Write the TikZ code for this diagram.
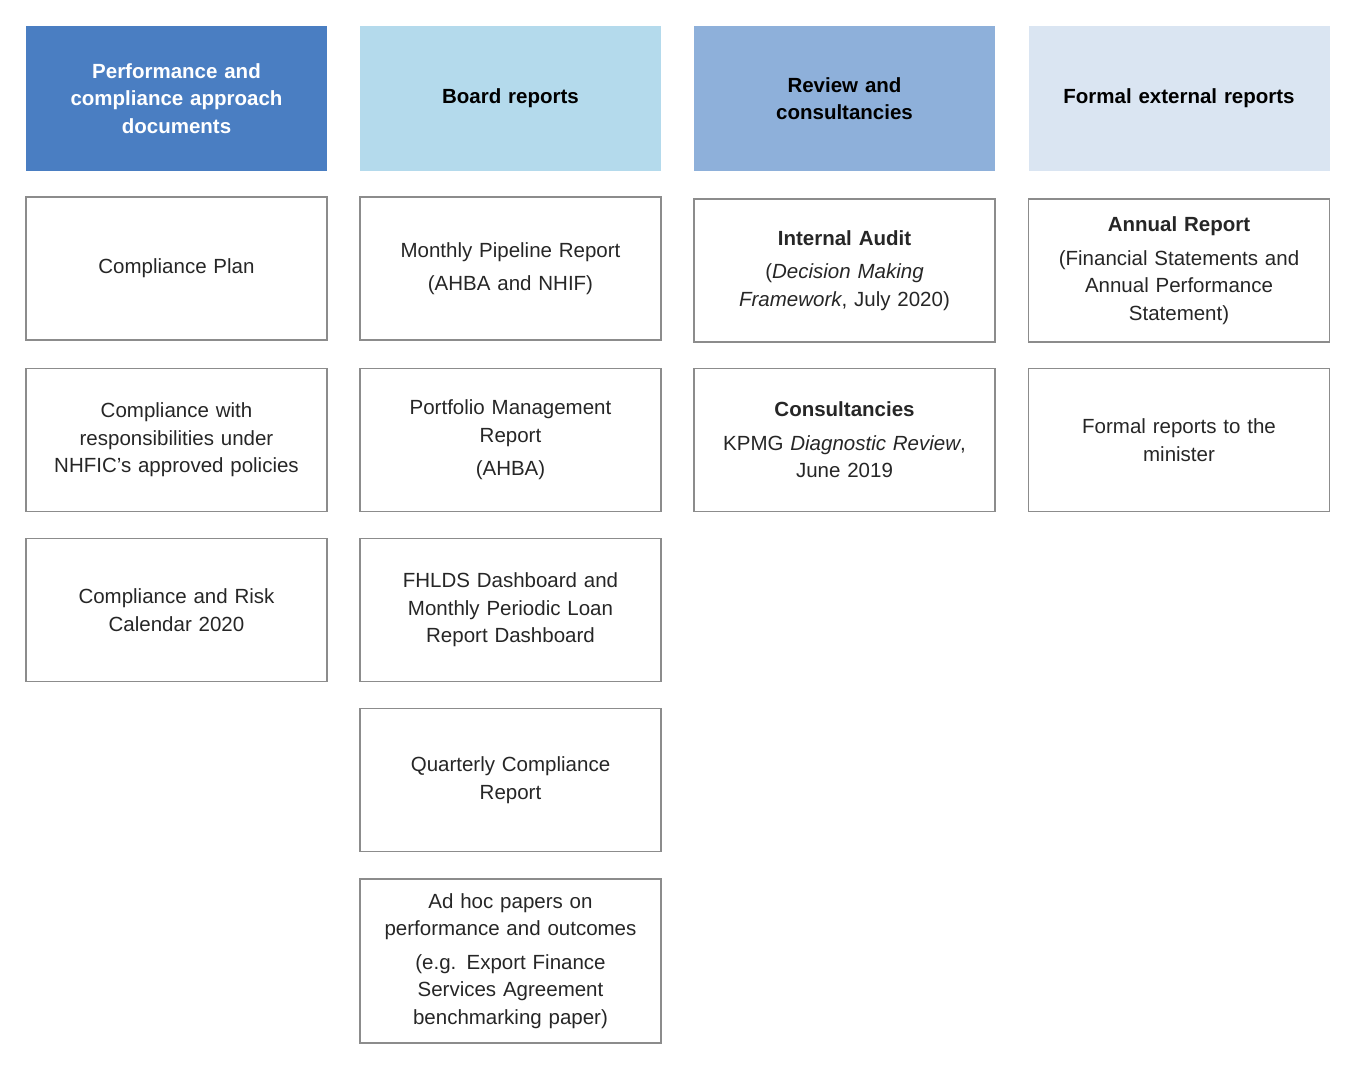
\documentclass[tikz,border=0pt]{standalone}
\usepackage{fontspec}
\setmainfont{Liberation Sans}
\definecolor{hA}{HTML}{4A7EC2}
\definecolor{hB}{HTML}{B4DAEC}
\definecolor{hC}{HTML}{8EB0DA}
\definecolor{hD}{HTML}{DAE5F2}
\definecolor{bord}{HTML}{8C8C8C}
\begin{document}
\begin{tikzpicture}[x=1pt,y=-1pt,
  cell/.style={draw=bord,line width=1.6pt,minimum width=301pt,minimum height=143pt,text width=290pt,align=center,inner sep=0pt,font=\fontsize{20.5}{27.5}\selectfont,text=black!85},
  head/.style={cell,draw=none,minimum height=145pt,font=\fontsize{20.5}{27.5}\selectfont\bfseries,text=black}]
\useasboundingbox (0,0) rectangle (1356,1070);
\node[head,fill=hA,text=white] (h1) at (176.5,98.5) {Performance and\\compliance approach\\documents};
\node[head,fill=hB] (h2) at (510.5,98.5) {Board reports};
\node[head,fill=hC] (h3) at (844.5,98.5) {Review and\\consultancies};
\node[head,fill=hD] (h4) at (1179,98.5) {Formal external reports};
\node[cell] (a1) at (176.5,268.5) {Compliance Plan};
\node[cell] (a2) at (176.5,440) {Compliance with\\responsibilities under\\NHFIC’s approved policies};
\node[cell] (a3) at (176.5,610) {Compliance and Risk\\Calendar 2020};
\node[cell] (b1) at (510.5,268.5) {Monthly Pipeline Report\\[6pt](AHBA and NHIF)};
\node[cell] (b2) at (510.5,440) {Portfolio Management\\Report\\[6pt](AHBA)};
\node[cell] (b3) at (510.5,610) {FHLDS Dashboard and\\Monthly Periodic Loan\\Report Dashboard};
\node[cell] (b4) at (510.5,780) {Quarterly Compliance\\Report};
\node[cell,minimum height=164pt] (b5) at (510.5,961) {Ad hoc papers on\\performance and outcomes\\[6pt](e.g. Export Finance\\Services Agreement\\benchmarking paper)};
\node[cell] (c1) at (844.5,270.5) {\textbf{Internal Audit}\\[6pt](\textit{Decision Making}\\\textit{Framework}, July 2020)};
\node[cell] (c2) at (844.5,440) {\textbf{Consultancies}\\[6pt]KPMG \textit{Diagnostic Review},\\June 2019};
\node[cell] (d1) at (1179,270.5) {\textbf{Annual Report}\\[6pt](Financial Statements and\\Annual Performance\\Statement)};
\node[cell] (d2) at (1179,440) {Formal reports to the\\minister};
\end{tikzpicture}
\end{document}
